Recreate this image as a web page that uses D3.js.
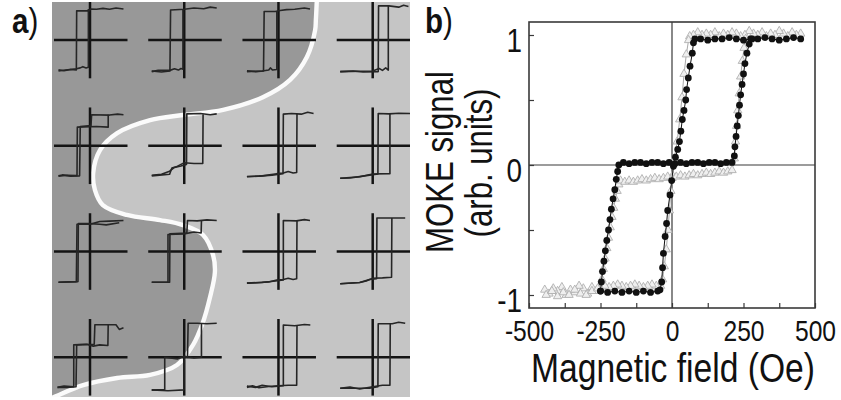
<!DOCTYPE html>
<html>
<head>
<meta charset="utf-8">
<script src="https://cdn.jsdelivr.net/npm/d3@7"></script>
<style>
  html, body { margin: 0; padding: 0; background: #fff; }
  svg { display: block; }
  text { font-family: "Liberation Sans", Arial, sans-serif; fill: #111; }
</style>
</head>
<body>
<svg id="fig" width="841" height="400"></svg>
<script>
// ---------- panel (a): local loops on a 4 x 4 grid ----------
// each loop: descending and ascending branch as [field, signal] pairs,
// both normalised to +/-1 inside a cell
const gridRows = [0, 1, 2, 3];
const gridCols = [0, 1, 2, 3];

const loopsRow1 = [
  { desc: [[1.03,1.0],[0.8,1.03],[0.6,0.99],[0.4,1.02],[0.2,0.99],[0.02,1.0],[-0.03,0.94],[-0.41,0.94],[-0.42,-0.97],[-0.6,-0.95],[-0.8,-0.99],[-0.97,-0.96]],
    asc:  [[-0.97,-1.0],[-0.75,-0.97],[-0.42,-0.93],[-0.3,-0.9],[-0.22,-0.86],[-0.12,-0.9],[-0.05,-0.88],[-0.05,1.0]] },
  { desc: [[1.0,1.03],[0.8,1.06],[0.6,1.01],[0.3,1.03],[0.0,0.99],[-0.42,0.97],[-0.44,-1.0],[-0.7,-1.03],[-1.0,-1.0]],
    asc:  [[-1.0,-1.02],[-0.8,-0.98],[-0.44,-0.98],[-0.3,-0.93],[-0.18,-0.97],[-0.1,-0.92],[-0.04,-0.94],[-0.04,0.99]] },
  { desc: [[0.97,1.0],[0.8,1.03],[0.5,0.99],[0.25,0.98],[0.05,0.95],[-0.1,0.92],[-0.44,0.92],[-0.46,-1.0],[-0.7,-1.02],[-0.97,-0.99]],
    asc:  [[-0.97,-1.02],[-0.5,-1.0],[-0.3,-0.97],[-0.25,-0.9],[-0.18,-0.97],[-0.05,-0.95],[-0.05,0.93]] },
  { desc: [[1.1,1.08],[0.95,1.12],[0.8,1.06],[0.5,1.1],[0.18,1.1],[0.17,-1.02],[-0.3,-1.03],[-0.6,-1.0],[-1.0,-1.02]],
    asc:  [[-1.0,-1.02],[0.0,-1.0],[0.2,-0.92],[0.3,-0.98],[0.4,-0.9],[0.48,-0.97],[0.48,1.1]] }
];
const loopsRow2 = [
  { desc: [[1.03,1.0],[0.85,1.02],[0.6,0.99],[0.05,1.0],[0.03,0.65],[-0.3,0.62],[-0.32,-0.97],[-0.6,-0.98],[-0.85,-0.94],[-0.97,-0.97]],
    asc:  [[-0.97,-0.98],[-0.7,-0.95],[-0.4,-0.96],[-0.39,0.6],[0.2,0.62],[0.56,0.6],[0.56,1.0]] },
  { desc: [[1.0,1.03],[0.8,1.0],[0.5,1.04],[0.08,1.03],[0.07,-0.6],[-0.1,-0.65],[-0.3,-0.7],[-0.45,-0.82],[-0.7,-0.92],[-1.0,-0.95]],
    asc:  [[-1.0,-0.97],[-0.6,-0.93],[-0.45,-0.92],[-0.38,-0.72],[-0.25,-0.68],[-0.1,-0.6],[0.0,-0.55],[0.3,-0.57],[0.57,-0.57],[0.58,1.02]] },
  { desc: [[1.08,1.04],[0.9,1.08],[0.7,1.02],[0.4,1.04],[0.15,1.02],[0.14,-0.9],[-0.2,-0.95],[-0.6,-0.98],[-0.97,-0.99]],
    asc:  [[-0.97,-1.0],[-0.5,-0.97],[-0.05,-0.9],[0.15,-0.88],[0.3,-0.83],[0.45,-0.88],[0.56,-0.86],[0.57,1.03]] },
  { desc: [[1.15,1.04],[0.8,1.05],[0.5,1.03],[0.17,1.04],[0.16,-0.91],[-0.3,-0.98],[-0.7,-1.04],[-1.0,-1.05]],
    asc:  [[-1.0,-1.05],[-0.4,-1.0],[0.0,-0.91],[0.53,-0.9],[0.53,1.04]] }
];
const loopsRow3 = [
  { desc: [[1.03,1.0],[0.6,0.98],[0.3,0.97],[0.0,0.88],[-0.4,0.88],[-0.42,-0.97],[-0.97,-0.99]],
    asc:  [[-0.97,-0.99],[-0.37,-0.97],[-0.36,0.9],[0.0,0.9],[0.3,0.88],[0.5,0.86],[0.9,0.93]] },
  { desc: [[1.0,1.0],[0.7,1.02],[0.4,0.99],[0.1,1.0],[0.08,0.6],[-0.44,0.57],[-0.45,-0.99],[-1.0,-0.99]],
    asc:  [[-1.0,-0.99],[-0.5,-0.99],[-0.5,0.55],[0.0,0.57],[0.3,0.63],[0.52,0.6],[0.53,1.0]] },
  { desc: [[0.97,1.0],[0.8,1.03],[0.55,0.99],[0.15,1.0],[0.15,-0.92],[-0.1,-0.95],[-0.5,-1.0],[-0.97,-1.02]],
    asc:  [[-0.97,-1.02],[-0.3,-0.98],[-0.05,-0.92],[0.15,-0.9],[0.3,-0.86],[0.45,-0.9],[0.56,-0.88],[0.57,1.0]] },
  { desc: [[1.0,1.08],[0.6,1.08],[0.13,1.08],[0.12,-0.88],[-0.1,-0.9],[-0.4,-1.0],[-1.0,-1.04]],
    asc:  [[-1.0,-1.04],[-0.4,-1.0],[-0.2,-0.95],[0.0,-0.86],[0.3,-0.85],[0.58,-0.83],[0.59,1.08]] }
];
const loopsRow4 = [
  { desc: [[1.03,0.95],[0.9,0.9],[0.8,1.05],[0.5,1.05],[0.15,1.05],[0.13,0.42],[-0.41,0.4],[-0.43,-0.95],[-0.7,-0.97],[-1.0,-0.97]],
    asc:  [[-1.0,-0.97],[-0.8,-0.93],[-0.5,-0.95],[-0.5,0.4],[-0.1,0.42],[0.1,0.36],[0.3,0.4],[0.55,0.38],[0.56,1.05]] },
  { desc: [[1.0,1.1],[0.7,1.08],[0.4,1.1],[0.12,1.1],[0.1,0.02],[0.0,0.0],[-0.01,-1.05],[-0.5,-1.08],[-1.0,-1.05]],
    asc:  [[-1.0,-1.06],[-0.6,-1.04],[-0.6,0.0],[-0.2,-0.05],[0.0,0.03],[0.3,-0.02],[0.53,0.0],[0.53,1.1]] },
  { desc: [[0.98,1.04],[0.8,1.06],[0.5,1.02],[0.15,1.04],[0.15,-0.92],[-0.2,-0.95],[-0.5,-0.9],[-0.7,-0.97],[-0.97,-0.93]],
    asc:  [[-0.97,-0.97],[-0.8,-0.92],[-0.6,-0.98],[-0.3,-0.94],[0.0,-0.92],[0.3,-0.9],[0.56,-0.9],[0.57,1.04]] },
  { desc: [[1.0,1.1],[0.8,1.13],[0.6,1.08],[0.17,1.08],[0.16,-0.95],[-0.1,-1.0],[-1.0,-1.0]],
    asc:  [[-1.0,-1.0],[-0.7,-0.96],[-0.4,-1.02],[0.0,-0.95],[0.3,-0.9],[0.53,-0.9],[0.54,1.1]] }
];
const loopGrid = [loopsRow1, loopsRow2, loopsRow3, loopsRow4];

// boundary between the two exchange-bias regions, in panel units (0..1)
const boundaryU = [0.740,0.737,0.735,0.712,0.665,0.589,0.478,0.366,0.274,0.182,0.134,0.115,0.120,0.142,0.209,0.302,0.366,0.422,0.450,0.455,0.441,0.422,0.394,0.349,0.274,0.182,0.087,0.014,-0.006];
const boundaryV = [-0.010,0.046,0.071,0.139,0.197,0.241,0.273,0.286,0.299,0.332,0.375,0.433,0.476,0.514,0.539,0.552,0.565,0.590,0.641,0.684,0.749,0.810,0.868,0.919,0.944,0.952,0.970,0.997,1.005];

// ---------- panel (b): MOKE loops, field in Oe ----------
const fieldTicks = [-500, -250, 0, 250, 500];
const fieldMinorTicks = [-500, -375, -250, -125, 0, 125, 250, 375, 500];
const signalTicks = [-1, 0, 1];
const signalMinorTicks = [-1, -0.5, 0, 0.5, 1];

// sample 1 (filled circles)
const darkDescH = [450,425,400,375,350,325,300,275,250,225,200,175,150,125,100,80,
  75,71,63,57,51,48,42,36,31,26,20,12,5,-1,-7,-15,-19,-24,-30,-33,-36,-42,
  -50,-75,-100,-125,-150,-175,-200,-225,-250];
const darkDescM = [0.97,0.98,0.97,0.96,0.97,0.98,0.97,0.97,0.96,0.97,0.98,0.97,0.97,0.96,0.97,0.97,
  0.94,0.86,0.76,0.67,0.58,0.5,0.42,0.35,0.26,0.18,0.12,0.06,-0.01,-0.12,-0.23,-0.35,-0.45,-0.55,-0.68,-0.79,-0.9,-0.96,
  -0.97,-0.98,-0.97,-0.98,-0.97,-0.98,-0.97,-0.98,-0.97];
const darkAscH = [-250,-247,-243,-238,-233,-228,-222,-217,-212,-206,-200,-195,-190,-186,
  -170,-150,-130,-110,-90,-70,-50,-30,-10,10,30,50,70,90,110,130,150,170,190,210,
  218,220,224,228,232,236,240,245,250,255,262,270,280];
const darkAscM = [-0.97,-0.9,-0.82,-0.74,-0.66,-0.58,-0.5,-0.42,-0.34,-0.26,-0.19,-0.11,-0.05,0.0,
  0.02,0.01,0.02,0.02,0.01,0.02,0.02,0.01,0.02,0.01,0.02,0.01,0.02,0.02,0.01,0.02,0.02,0.01,0.02,0.02,
  0.07,0.14,0.22,0.3,0.38,0.46,0.54,0.62,0.7,0.78,0.86,0.93,0.97];

// sample 2 (open triangles)
const lightDescH = [450,435,420,405,390,375,360,345,330,315,300,285,270,255,240,225,210,195,180,165,150,135,120,105,90,75,62,
  58,50,42,35,27,18,8,2,-4,-9,-14,-20,-27,-33,-40,
  -55,-70,-85,-100,-115,-130,-145,-160,-175,-190,-205,-220,-235,-250,-265,-280,-295,-310,-325,-340,-355,-370,-385,-400,-415,-430,-445];
const lightDescM = [1.01,1.0,1.02,0.99,1.01,1.03,1.0,1.01,0.99,1.02,1.0,1.01,1.03,1.0,0.99,1.01,1.02,1.0,1.01,0.99,1.02,1.0,1.01,1.0,1.02,1.0,0.99,
  0.96,0.85,0.7,0.52,0.35,0.18,0.05,-0.08,-0.2,-0.35,-0.5,-0.65,-0.78,-0.88,-0.93,
  -0.93,-0.92,-0.93,-0.94,-0.93,-0.92,-0.93,-0.94,-0.93,-0.92,-0.93,-0.94,-0.93,-0.95,-0.97,-0.94,-0.99,-0.95,-0.93,-0.98,-0.96,-1.0,-0.94,-0.97,-0.95,-0.99,-0.96];
const lightAscH = [-440,-420,-400,-380,-360,-340,-320,-300,-280,-260,
  -245,-240,-234,-228,-222,-216,-210,-204,-198,-192,-186,-180,
  -165,-150,-135,-120,-105,-90,-75,-60,-45,-30,-15,0,15,30,45,60,75,90,105,120,135,150,165,180,195,210,
  218,222,226,230,235,240,246,252,258];
const lightAscM = [-1.0,-0.97,-1.01,-0.98,-1.0,-0.96,-0.99,-1.0,-0.97,-0.95,
  -0.88,-0.8,-0.72,-0.64,-0.56,-0.48,-0.4,-0.33,-0.26,-0.2,-0.15,-0.12,
  -0.13,-0.12,-0.13,-0.12,-0.11,-0.12,-0.11,-0.1,-0.11,-0.1,-0.09,-0.1,-0.09,-0.08,-0.09,-0.08,-0.07,-0.08,-0.07,-0.06,-0.07,-0.06,-0.05,-0.06,-0.05,-0.04,
  0.05,0.18,0.3,0.42,0.55,0.68,0.8,0.9,0.97];

// ================= drawing =================
const svg = d3.select("#fig");
const NARROW = 0.82;   // condensed lettering

// text drawn with a horizontally condensed sans face
function narrowText(parent, x, y, str, size, opts = {}) {
  const rot = opts.rotate ? ` rotate(${opts.rotate})` : "";
  const t = parent.append("text")
    .attr("transform", `translate(${x},${y})${rot} scale(${NARROW},1)`)
    .attr("text-anchor", opts.anchor || "start")
    .style("font-size", size + "px");
  if (opts.weight) t.style("font-weight", opts.weight);
  if (str !== null) t.text(str);
  return t;
}

// ---- panel (a) ----
const pa = { x0: 52, x1: 410, y0: 2, y1: 397 };
const uScale = d3.scaleLinear().domain([0, 1]).range([pa.x0, pa.x1]);
const vScale = d3.scaleLinear().domain([0, 1]).range([pa.y0, pa.y1]);

svg.append("defs").append("clipPath").attr("id", "clipA")
  .append("rect").attr("x", pa.x0).attr("y", pa.y0)
  .attr("width", pa.x1 - pa.x0).attr("height", pa.y1 - pa.y0);

const gA = svg.append("g").attr("clip-path", "url(#clipA)");
gA.append("rect").attr("x", pa.x0).attr("y", pa.y0)
  .attr("width", pa.x1 - pa.x0).attr("height", pa.y1 - pa.y0)
  .attr("fill", "#c5c5c5");

const boundary = boundaryU.map((u, i) => [uScale(u), vScale(boundaryV[i])]);
const curveLine = d3.line().curve(d3.curveCatmullRom.alpha(0.5));
const darkPath = curveLine(boundary) +
  `L${uScale(-0.05)},${vScale(1.05)}L${uScale(-0.05)},${vScale(-0.05)}L${uScale(0.74)},${vScale(-0.05)}Z`;
gA.append("path").attr("d", darkPath).attr("fill", "#989898");
gA.append("path").attr("d", curveLine(boundary))
  .attr("fill", "none").attr("stroke", "#fbfbfb").attr("stroke-width", 4.4);

const cellX = d3.scaleLinear().domain([0, 3]).range([90, 372.7]);
const cellY = d3.scaleLinear().domain([0, 3]).range([40, 357.3]);
const hScale = d3.scaleLinear().domain([-1, 1]).range([-32.5, 32.5]);
const mScale = d3.scaleLinear().domain([-1, 1]).range([31, -31]);
const loopLine = d3.line().x(d => hScale(d[0])).y(d => mScale(d[1]));

gridRows.forEach(r => {
  gridCols.forEach(c => {
    const g = gA.append("g").attr("transform", `translate(${cellX(c)},${cellY(r)})`);
    g.append("line").attr("x1", -36).attr("x2", 37.5).attr("y1", 0).attr("y2", 0)
      .attr("stroke", "#141414").attr("stroke-width", 2.5);
    g.append("line").attr("x1", 0).attr("x2", 0).attr("y1", -38.3).attr("y2", 38.3)
      .attr("stroke", "#141414").attr("stroke-width", 2.5);
    const loop = loopGrid[r][c];
    [loop.desc, loop.asc].forEach(branch => {
      g.append("path").attr("d", loopLine(branch))
        .attr("fill", "none").attr("stroke", "#262626")
        .attr("stroke-width", 1.6).attr("stroke-linejoin", "round");
    });
  });
});

// panel labels
const la = narrowText(svg, 12, 33, null, 36);
la.append("tspan").style("font-weight", "bold").text("a");
la.append("tspan").text(")");
const lb = narrowText(svg, 425, 33, null, 36);
lb.append("tspan").style("font-weight", "bold").text("b");
lb.append("tspan").text(")");

// ---- panel (b) ----
const pb = { x0: 529, x1: 815, y0: 22, y1: 308 };
const xB = d3.scaleLinear().domain([-500, 500]).range([pb.x0, pb.x1]);
const yB = d3.scaleLinear().domain([-1.1, 1.1]).range([pb.y1, pb.y0]);
const gB = svg.append("g");

// zero lines
gB.append("line").attr("x1", xB(0)).attr("x2", xB(0)).attr("y1", pb.y0).attr("y2", pb.y1)
  .attr("stroke", "#3a3a3a").attr("stroke-width", 1.2);
gB.append("line").attr("x1", pb.x0).attr("x2", pb.x1).attr("y1", yB(0)).attr("y2", yB(0))
  .attr("stroke", "#3a3a3a").attr("stroke-width", 1.2);

// inward ticks
const minorX = gB.append("g").attr("transform", `translate(0,${pb.y1})`)
  .call(d3.axisBottom(xB).tickValues(fieldMinorTicks).tickSize(-5).tickFormat(""));
const minorY = gB.append("g").attr("transform", `translate(${pb.x0},0)`)
  .call(d3.axisLeft(yB).tickValues(signalMinorTicks).tickSize(-5).tickFormat(""));
[minorX, minorY].forEach(a => {
  a.select(".domain").remove();
  a.selectAll("line").attr("stroke", "#3a3a3a").attr("stroke-width", 1.2);
});

// tick labels
const labX = gB.append("g").attr("transform", `translate(0,${pb.y1})`)
  .call(d3.axisBottom(xB).tickValues(fieldTicks).tickSize(0).tickFormat(d => String(d)));
labX.select(".domain").remove();
labX.selectAll("text")
  .attr("x", null).attr("y", null).attr("dy", null)
  .attr("transform", `translate(0,33) scale(${NARROW},1)`)
  .attr("text-anchor", "middle")
  .style("font-size", "30px").attr("fill", "#111")
  .style("font-family", "'Liberation Sans',Arial,sans-serif");

const labY = gB.append("g").attr("transform", `translate(${pb.x0},0)`)
  .call(d3.axisLeft(yB).tickValues(signalTicks).tickSize(0).tickFormat(d => String(d)));
labY.select(".domain").remove();
labY.selectAll("text")
  .attr("x", null).attr("dy", null)
  .attr("transform", `translate(-7,16) scale(${NARROW},1)`)
  .attr("text-anchor", "end")
  .style("font-size", "34px").attr("fill", "#111")
  .style("font-family", "'Liberation Sans',Arial,sans-serif");

// series
const zip = (hs, ms) => hs.map((h, i) => [h, ms[i]]);
const seriesLine = d3.line().x(d => xB(d[0])).y(d => yB(d[1]));
const lightBranches = [zip(lightDescH, lightDescM), zip(lightAscH, lightAscM)];
const darkBranches = [zip(darkDescH, darkDescM), zip(darkAscH, darkAscM)];
const tri = d3.symbol().type(d3.symbolTriangle).size(30);

lightBranches.forEach(b => {
  gB.append("path").attr("d", seriesLine(b)).attr("fill", "none")
    .attr("stroke", "#a8a8a8").attr("stroke-width", 1);
});
lightBranches.forEach(b => {
  gB.append("g").selectAll("path").data(b).join("path")
    .attr("d", tri)
    .attr("transform", d => `translate(${xB(d[0])},${yB(d[1])})`)
    .attr("fill", "#efefef").attr("stroke", "#b0b0b0").attr("stroke-width", 0.9);
});
darkBranches.forEach(b => {
  gB.append("path").attr("d", seriesLine(b)).attr("fill", "none")
    .attr("stroke", "#111").attr("stroke-width", 1);
  gB.append("g").selectAll("circle").data(b).join("circle")
    .attr("cx", d => xB(d[0])).attr("cy", d => yB(d[1])).attr("r", 3.4)
    .attr("fill", "#111");
});

// frame
gB.append("rect").attr("x", pb.x0).attr("y", pb.y0)
  .attr("width", pb.x1 - pb.x0).attr("height", pb.y1 - pb.y0)
  .attr("fill", "none").attr("stroke", "#3a3a3a").attr("stroke-width", 1.6);

// axis titles
narrowText(svg, (pb.x0 + pb.x1) / 2 + 1, 382, "Magnetic field (Oe)", 41, { anchor: "middle" });
narrowText(svg, 453, 162, "MOKE signal", 38, { anchor: "middle", rotate: -90 });
narrowText(svg, 492, 163, "(arb. units)", 38, { anchor: "middle", rotate: -90 });
</script>
</body>
</html>
